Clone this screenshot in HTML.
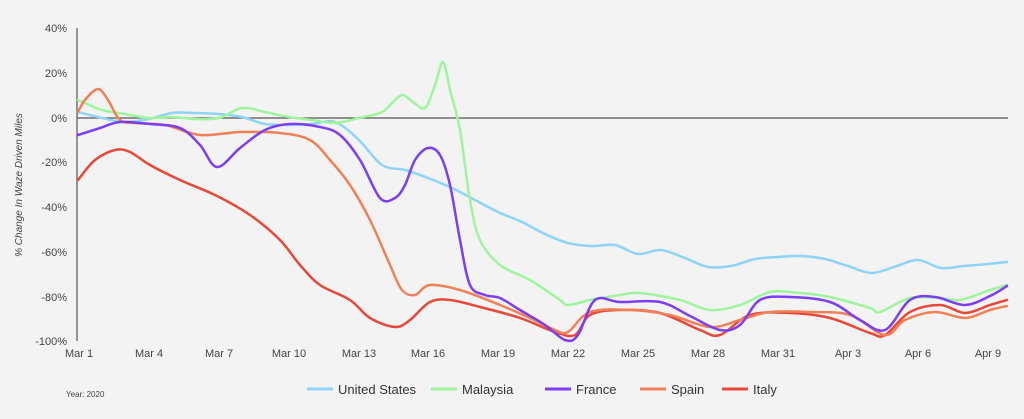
<!DOCTYPE html>
<html><head><style>
body{margin:0;background:#f3f3f3;}
svg{display:block;font-family:"Liberation Sans",sans-serif;}
</style></head><body>
<svg id="c" width="1024" height="419" viewBox="0 0 1024 419">
<rect width="1024" height="419" fill="#f3f3f3"/>
<g font-size="11" fill="#444" text-anchor="end">
<text x="67" y="32">40%</text><text x="67" y="77">20%</text><text x="67" y="122">0%</text>
<text x="67" y="166">-20%</text><text x="67" y="211">-40%</text><text x="67" y="256">-60%</text>
<text x="67" y="301">-80%</text><text x="67" y="345">-100%</text>
</g>
<text transform="translate(22,185) rotate(-90)" font-size="10" font-style="italic" fill="#444" text-anchor="middle">% Change In Waze Driven Miles</text>
<line x1="77" y1="28" x2="77" y2="341" stroke="#555" stroke-width="1.2"/>
<line x1="77" y1="118" x2="1008" y2="118" stroke="#555" stroke-width="1.2"/>
<g font-size="11" fill="#444" text-anchor="middle">
<text x="79" y="357">Mar 1</text><text x="149" y="357">Mar 4</text><text x="219" y="357">Mar 7</text>
<text x="289" y="357">Mar 10</text><text x="359" y="357">Mar 13</text><text x="428" y="357">Mar 16</text>
<text x="498" y="357">Mar 19</text><text x="568" y="357">Mar 22</text><text x="638" y="357">Mar 25</text>
<text x="708" y="357">Mar 28</text><text x="778" y="357">Mar 31</text><text x="848" y="357">Apr 3</text>
<text x="918" y="357">Apr 6</text><text x="988" y="357">Apr 9</text>
</g>
<text x="66" y="397" font-size="8" fill="#444">Year: 2020</text>
<g fill="none" stroke-width="2.5" stroke-linejoin="round" stroke-linecap="round">
<polyline stroke="#8fd3f5" points="78,112 102,118 125,122 149,119 172,113 195,113 219,114 242,117 265,124 289,125 312,124 335,122 359,140 382,165 405,170 428,178 452,188 475,200 498,212 522,222 545,234 568,243 592,246 615,245 638,254 661,250 685,258 708,267 731,266 755,259 778,257 801,256 825,259 848,266 871,273 894,267 918,260 941,268 964,266 988,264 1007,262"/>
<polyline stroke="#9ef59e" points="78,100 102,110 125,114 149,118 172,117 195,119 219,118 242,108 265,112 289,117 312,120 335,123 359,118 382,112 395,100 403,95 413,102 425,108 435,85 443,62 450,90 460,130 470,200 480,240 500,265 530,280 560,300 568,305 590,300 620,295 640,293 680,300 710,310 740,305 770,292 800,293 830,297 870,308 880,312 910,298 940,298 960,300 990,290 1007,285"/>
<polyline stroke="#e8483a" points="78,180 95,160 115,150 130,152 150,165 180,180 215,195 250,215 280,240 300,265 320,285 350,300 370,318 395,327 410,320 430,302 450,300 480,307 520,318 555,332 575,335 590,315 620,310 660,313 700,330 720,335 750,315 790,313 830,318 870,333 885,335 910,312 940,305 965,313 990,305 1007,300"/>
<polyline stroke="#f08058" points="78,112 85,100 98,89 108,100 120,120 135,123 165,125 200,135 240,132 280,133 310,140 330,160 350,185 370,220 390,265 402,290 415,295 430,285 460,290 500,305 530,318 555,330 568,332 590,312 630,310 670,315 710,327 740,320 770,312 810,312 850,315 885,335 905,320 935,312 965,318 990,310 1007,306"/>
<polyline stroke="#7b3ff0" points="78,135 100,128 120,122 150,124 180,128 200,145 217,167 240,148 265,130 290,124 320,127 340,135 360,160 380,198 395,198 405,185 415,160 428,148 440,155 450,185 460,240 470,285 485,295 500,298 520,310 545,325 565,340 578,335 595,300 620,302 660,302 690,316 720,330 740,325 760,300 790,297 830,302 860,320 885,330 910,300 935,297 965,305 990,296 1007,286"/>
</g>
<g font-size="13" fill="#333">
<line x1="307" y1="389" x2="333" y2="389" stroke="#8fd3f5" stroke-width="3"/><text x="338" y="394">United States</text>
<line x1="431" y1="389" x2="457" y2="389" stroke="#9ef59e" stroke-width="3"/><text x="462" y="394">Malaysia</text>
<line x1="545" y1="389" x2="571" y2="389" stroke="#7b3ff0" stroke-width="3"/><text x="576" y="394">France</text>
<line x1="640" y1="389" x2="666" y2="389" stroke="#f08058" stroke-width="3"/><text x="671" y="394">Spain</text>
<line x1="722" y1="389" x2="748" y2="389" stroke="#e8483a" stroke-width="3"/><text x="753" y="394">Italy</text>
</g>
</svg>
<script>
document.querySelectorAll('polyline').forEach(function(pl){
 var p=pl.getAttribute('points').trim().split(/\s+/).map(function(s){return s.split(',').map(Number);});
 var d='M'+p[0][0]+','+p[0][1];
 for(var i=0;i<p.length-1;i++){
  var p0=p[i-1]||p[i],p1=p[i],p2=p[i+1],p3=p[i+2]||p2;
  var c1x=p1[0]+(p2[0]-p0[0])/6,c1y=p1[1]+(p2[1]-p0[1])/6;
  var c2x=p2[0]-(p3[0]-p1[0])/6,c2y=p2[1]-(p3[1]-p1[1])/6;
  d+=' C'+c1x.toFixed(1)+','+c1y.toFixed(1)+' '+c2x.toFixed(1)+','+c2y.toFixed(1)+' '+p2[0]+','+p2[1];
 }
 var path=document.createElementNS('http://www.w3.org/2000/svg','path');
 path.setAttribute('d',d);path.setAttribute('stroke',pl.getAttribute('stroke'));
 pl.parentNode.replaceChild(path,pl);
});
</script>
</body></html>
